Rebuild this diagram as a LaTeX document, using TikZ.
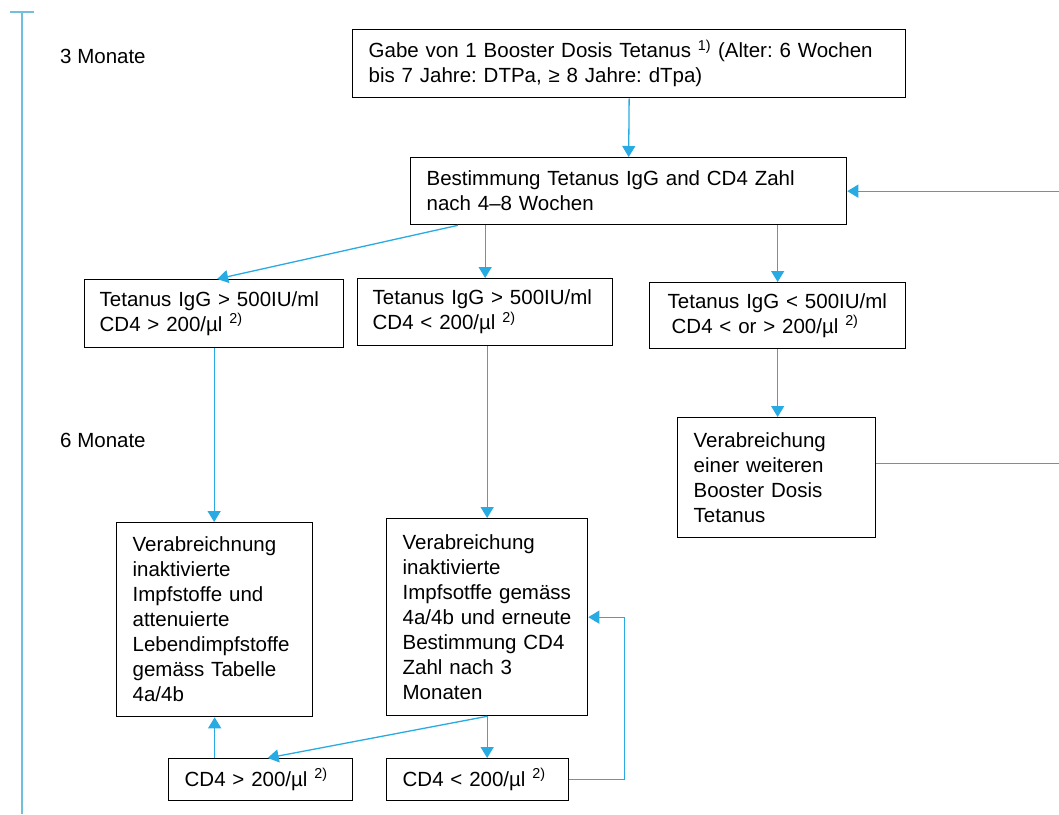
\documentclass[tikz,border=0pt]{standalone}
\usepackage{fontspec}
\setmainfont{Liberation Sans}
\usetikzlibrary{arrows.meta}
\definecolor{linkblue}{RGB}{40,170,226}
\definecolor{timeblue}{RGB}{110,192,222}
\frenchspacing

\begin{document}
\begin{tikzpicture}[x=1pt,y=-1pt,
  box/.style={draw=black,line width=1.3pt,anchor=north west,align=left,inner xsep=0pt,inner ysep=0pt,
    font=\fontsize{20.5}{25}\selectfont},
  link/.style={draw=linkblue,line width=1.3pt,-{Triangle[width=13pt,length=11pt]}},
  timeline/.style={draw=timeblue,line width=1.3pt},
  lbl/.style={anchor=base west,inner sep=0pt,font=\fontsize{20.5}{25}\selectfont}]
  \useasboundingbox (0,0) rectangle (1059,814);
  % time axis
  \draw[timeline] (10,12) -- (34,12) (22,12) -- (22,814);
  \node[lbl] (m3) at (60,63) {3 Monate};
  \node[lbl] (m6) at (60,447) {6 Monate};
  % boxes
  \node[box,minimum width=553pt,text width=521pt,minimum height=68pt] (gabe) at (352,29)
    {Gabe von 1 Booster Dosis Tetanus \textsuperscript{1)} (Alter: 6 Wochen\\bis 7 Jahre: DTPa, ≥ 8 Jahre: dTpa)};
  \node[box,minimum width=436pt,text width=404pt,minimum height=67pt] (bestimm) at (410,157)
    {Bestimmung Tetanus IgG and CD4 Zahl\\nach 4–8 Wochen};
  \node[box,minimum width=259pt,text width=229pt,minimum height=68pt] (tiga) at (84,279)
    {Tetanus IgG > 500IU/ml\\CD4 > 200/µl \textsuperscript{2)}};
  \node[box,minimum width=255pt,text width=225pt,minimum height=67pt] (tigb) at (357,278)
    {Tetanus IgG > 500IU/ml\\CD4 < 200/µl \textsuperscript{2)}};
  \node[box,minimum width=256pt,text width=220pt,minimum height=66pt] (tigc) at (649,282)
    {Tetanus IgG < 500IU/ml\\\hspace*{4pt}CD4 < or > 200/µl \textsuperscript{2)}};
  \node[box,minimum width=198pt,text width=166pt,minimum height=120pt] (boost) at (677,417)
    {Verabreichung\\einer weiteren\\Booster Dosis\\Tetanus};
  \node[box,minimum width=196pt,text width=164pt,minimum height=194pt] (impfd) at (116,522)
    {Verabreichnung\\inaktivierte\\Impfstoffe und\\attenuierte\\Lebendimpfstoffe\\gemäss Tabelle\\4a/4b};
  \node[box,minimum width=201pt,text width=169pt,minimum height=197pt] (impfe) at (386,518)
    {Verabreichung\\inaktivierte\\Impfsotffe gemäss\\4a/4b und erneute\\Bestimmung CD4\\Zahl nach 3\\Monaten};
  \node[box,minimum width=184pt,text width=152pt,minimum height=42pt] (cdg) at (168,758)
    {CD4 > 200/µl \textsuperscript{2)}};
  \node[box,minimum width=182pt,text width=150pt,minimum height=42pt] (cdh) at (386,758)
    {CD4 < 200/µl \textsuperscript{2)}};
  % connectors
  \draw[link] (gabe.south) -- (bestimm.north);
  \draw[link] ([xshift=48pt]bestimm.south west) -- ([xshift=3pt]tiga.north);
  \draw[link] (bestimm.south -| tigb.north) -- (tigb.north);
  \draw[link] (bestimm.south -| tigc.north) -- (tigc.north);
  \draw[link] (tiga.south) -- (tiga.south |- impfd.north);
  \draw[link] (tigb.south -| impfe.north) -- (impfe.north);
  \draw[link] (tigc.south) -- (tigc.south |- boost.north);
  \draw[link] ([yshift=14pt]boost.east) -- ++(187,0) |- (bestimm.east);
  \draw[link] (cdg.north -| impfd.south) -- (impfd.south);
  \draw[link] (impfe.south) -- ([xshift=7pt]cdg.north);
  \draw[link] (impfe.south) -- (impfe.south |- cdh.north);
  \draw[link] (cdh.east) -| ([xshift=36pt]impfe.east) -- (impfe.east);
\end{tikzpicture}
\end{document}
